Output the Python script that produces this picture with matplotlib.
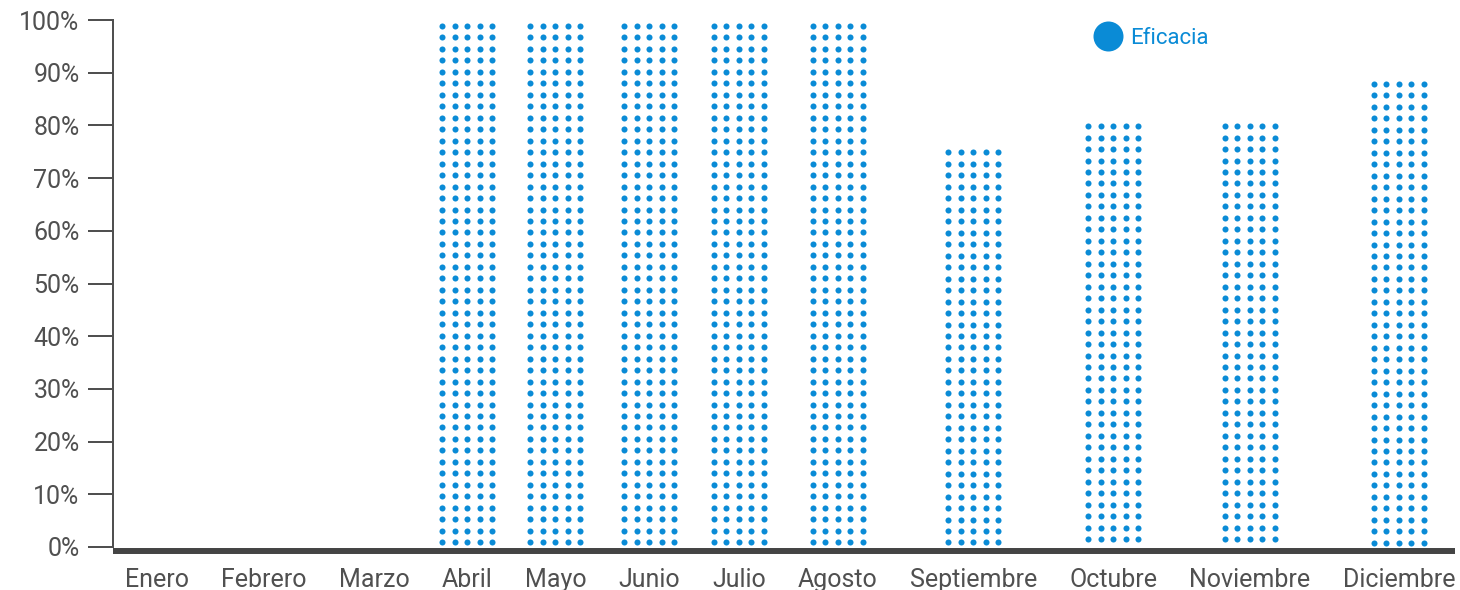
import numpy as np
import matplotlib.pyplot as plt
from matplotlib.lines import Line2D

months = ['Enero', 'Febrero', 'Marzo', 'Abril', 'Mayo', 'Junio', 'Julio',
          'Agosto', 'Septiembre', 'Octubre', 'Noviembre', 'Diciembre']
eficacia = [0, 0, 0, 100, 100, 100, 100, 100, 76, 81, 81, 89]
yticks = list(range(0, 101, 10))
ytick_labels = [f'{v}%' for v in yticks]

BLUE = '#0a8bd6'
GREY = '#505050'
plt.rcParams['font.family'] = ['Roboto', 'DejaVu Sans']

# axes box in pixels: left 113, bottom 43, width 1342, height 527
fig = plt.figure(figsize=(14.6, 5.9), dpi=100)
ax = fig.add_axes([113 / 1460, 43 / 590, 1342 / 1460, 527 / 590])

# each month gets a slot as wide as its label plus a constant gap
renderer = fig.canvas.get_renderer()
label_w = []
for m in months:
    t = fig.text(0, 0, m, fontsize=18)
    label_w.append(t.get_window_extent(renderer).width)
    t.remove()
label_w = np.array(label_w)
lead = 12
gap = (1342 - lead - label_w.sum()) / (len(months) - 1)
centers = lead + np.cumsum(label_w + gap) - gap - label_w / 2

ax.set_xlim(0, 1342)
ax.set_ylim(0, 100)

# bars are only outlines for the dot pattern, which is clipped to them
bars = ax.bar(centers, eficacia, width=58, color='none', linewidth=0)
px_y = 100 / 527
row_step = 11.47 * px_y
top_off = 6 * px_y
col_off = (np.arange(5) - 2) * 12.5
for rect, v in zip(bars, eficacia):
    if v <= 0:
        continue
    cx = rect.get_x() + rect.get_width() / 2
    ys = np.arange(rect.get_height() - top_off, 0, -row_step)
    xx, yy = np.meshgrid(cx + col_off, ys)
    ax.scatter(xx.ravel(), yy.ravel(), s=19, color=BLUE, linewidths=0,
               clip_path=rect)

for side in ('top', 'right'):
    ax.spines[side].set_visible(False)
ax.spines['left'].set_linewidth(1.44)
ax.spines['left'].set_color(GREY)
ax.spines['left'].set_bounds(0, 100)
ax.spines['bottom'].set_position(('outward', 2.9))
ax.spines['bottom'].set_linewidth(4.3)
ax.spines['bottom'].set_color('#444444')
ax.spines['bottom'].set_capstyle('butt')

ax.set_xticks(centers, months)
ax.set_yticks(yticks, ytick_labels)
ax.tick_params(axis='x', length=0, pad=12, labelsize=18, labelcolor=GREY)
ax.tick_params(axis='y', length=18, width=1.44, color=GREY, pad=6,
               labelsize=18, labelcolor=GREY)

handle = Line2D([], [], linestyle='none', marker='o', markersize=21.6,
                markerfacecolor=BLUE, markeredgewidth=0)
ax.legend([handle], ['Eficacia'], loc='center left', frameon=False,
          bbox_to_anchor=(1092 / 1460, 1 - 38 / 590),
          bbox_transform=fig.transFigure, fontsize=16, labelcolor=BLUE,
          borderpad=0, borderaxespad=0, handlelength=1.4, handletextpad=0.3)

fig.savefig('out.png', dpi=100)
